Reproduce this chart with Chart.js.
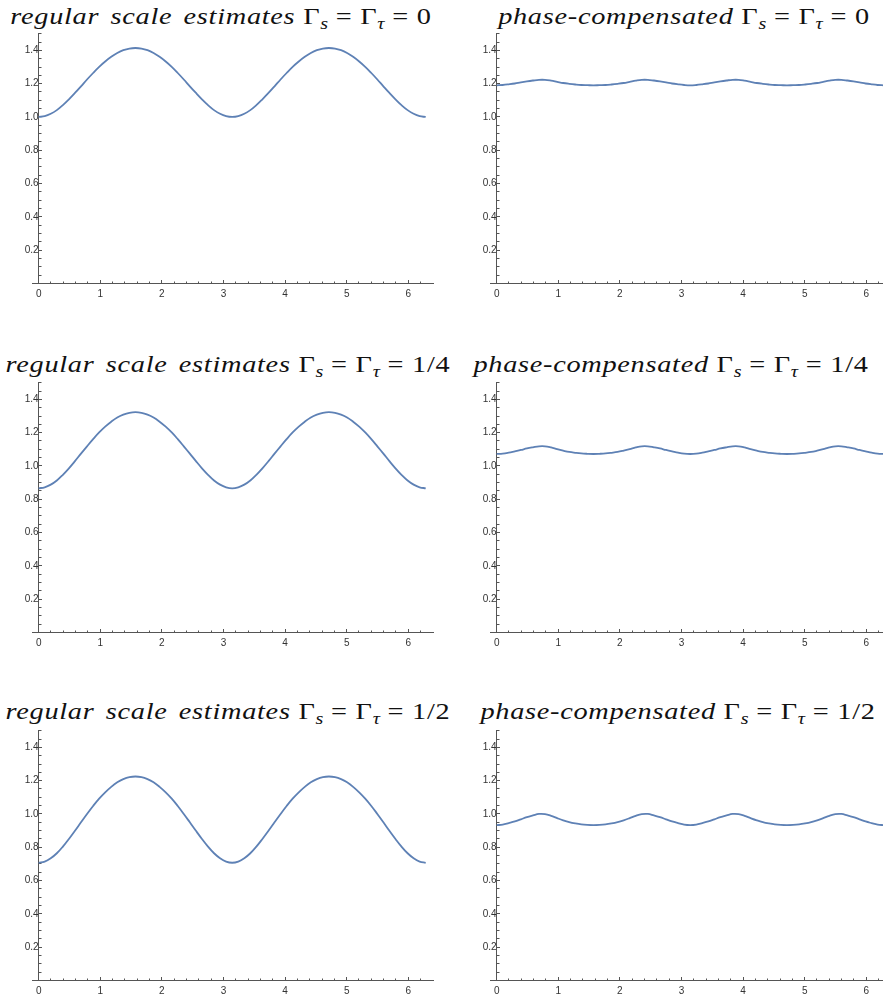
<!DOCTYPE html>
<html>
<head>
<meta charset="utf-8">
<script src="https://cdn.jsdelivr.net/npm/chart.js@4.4.1/dist/chart.umd.min.js"></script>
<style>
    body { margin: 0; width: 883px; height: 1003px; overflow: hidden; background: #fff; position: relative; }
    .title {
        position: absolute; width: 600px; text-align: center; white-space: nowrap;
        font-family: 'Liberation Serif', serif; font-size: 24px; line-height: 30px; color: #111;
        letter-spacing: 0.6px; transform: scaleX(1.18); transform-origin: center;
    }
    .title i { word-spacing: 3px; }
    .title sub { font-size: 17px; vertical-align: -5px; line-height: 0; font-style: italic; letter-spacing: 0; }
    canvas { position: absolute; }
</style>
</head>
<body>
<div class="title" style="left:-79px; top:1px;"><i>regular scale estimates</i> Γ<sub>s</sub> = Γ<sub>τ</sub> = 0</div>
<div class="title" style="left:384px; top:1px;"><i>phase-compensated</i> Γ<sub>s</sub> = Γ<sub>τ</sub> = 0</div>
<div class="title" style="left:-72px; top:349px;"><i>regular scale estimates</i> Γ<sub>s</sub> = Γ<sub>τ</sub> = 1/4</div>
<div class="title" style="left:371px; top:349px;"><i>phase-compensated</i> Γ<sub>s</sub> = Γ<sub>τ</sub> = 1/4</div>
<div class="title" style="left:-72px; top:696px;"><i>regular scale estimates</i> Γ<sub>s</sub> = Γ<sub>τ</sub> = 1/2</div>
<div class="title" style="left:378px; top:696px;"><i>phase-compensated</i> Γ<sub>s</sub> = Γ<sub>τ</sub> = 1/2</div>

<canvas id="c1" width="450" height="300" style="left:0px; top:0px;"></canvas>
<canvas id="c2" width="450" height="300" style="left:458px; top:0px;"></canvas>
<canvas id="c3" width="450" height="300" style="left:0px; top:349px;"></canvas>
<canvas id="c4" width="450" height="300" style="left:458px; top:349px;"></canvas>
<canvas id="c5" width="450" height="300" style="left:0px; top:697px;"></canvas>
<canvas id="c6" width="450" height="300" style="left:458px; top:697px;"></canvas>

<script>
// angle samples (radians)
const theta = [0, 0.098, 0.196, 0.295, 0.393, 0.491, 0.589, 0.687, 0.785, 0.884, 0.982, 1.080, 1.178, 1.276, 1.374, 1.473, 1.571,
    1.669, 1.767, 1.865, 1.963, 2.062, 2.160, 2.258, 2.356, 2.454, 2.553, 2.651, 2.749, 2.847, 2.945, 3.043, 3.142,
    3.240, 3.338, 3.436, 3.534, 3.632, 3.731, 3.829, 3.927, 4.025, 4.123, 4.222, 4.320, 4.418, 4.516, 4.614, 4.712,
    4.811, 4.909, 5.007, 5.105, 5.203, 5.301, 5.400, 5.498, 5.596, 5.694, 5.792, 5.890, 5.989, 6.087, 6.185, 6.283];

// regular scale estimates
const regularG0 = [1.000, 1.005, 1.019, 1.041, 1.071, 1.106, 1.144, 1.184, 1.225, 1.264, 1.301, 1.333, 1.361, 1.384, 1.401, 1.411, 1.414,
    1.411, 1.401, 1.384, 1.361, 1.333, 1.301, 1.264, 1.225, 1.184, 1.144, 1.106, 1.071, 1.041, 1.019, 1.005, 1.000,
    1.005, 1.019, 1.041, 1.071, 1.106, 1.144, 1.184, 1.225, 1.264, 1.301, 1.333, 1.361, 1.384, 1.401, 1.411, 1.414,
    1.411, 1.401, 1.384, 1.361, 1.333, 1.301, 1.264, 1.225, 1.184, 1.144, 1.106, 1.071, 1.041, 1.019, 1.005, 1.000];

const regularG14 = [0.866, 0.872, 0.888, 0.913, 0.947, 0.986, 1.029, 1.074, 1.118, 1.161, 1.201, 1.236, 1.266, 1.291, 1.308, 1.319, 1.323,
    1.319, 1.308, 1.291, 1.266, 1.236, 1.201, 1.161, 1.118, 1.074, 1.029, 0.986, 0.947, 0.913, 0.888, 0.872, 0.866,
    0.872, 0.888, 0.913, 0.947, 0.986, 1.029, 1.074, 1.118, 1.161, 1.201, 1.236, 1.266, 1.291, 1.308, 1.319, 1.323,
    1.319, 1.308, 1.291, 1.266, 1.236, 1.201, 1.161, 1.118, 1.074, 1.029, 0.986, 0.947, 0.913, 0.888, 0.872, 0.866];

const regularG12 = [0.707, 0.714, 0.734, 0.764, 0.804, 0.850, 0.899, 0.950, 1.000, 1.048, 1.092, 1.130, 1.163, 1.190, 1.209, 1.221, 1.225,
    1.221, 1.209, 1.190, 1.163, 1.130, 1.092, 1.048, 1.000, 0.950, 0.899, 0.850, 0.804, 0.764, 0.734, 0.714, 0.707,
    0.714, 0.734, 0.764, 0.804, 0.850, 0.899, 0.950, 1.000, 1.048, 1.092, 1.130, 1.163, 1.190, 1.209, 1.221, 1.225,
    1.221, 1.209, 1.190, 1.163, 1.130, 1.092, 1.048, 1.000, 0.950, 0.899, 0.850, 0.804, 0.764, 0.734, 0.714, 0.707];

// phase-compensated
const phaseG0 = [1.190, 1.192, 1.196, 1.201, 1.208, 1.214, 1.219, 1.223, 1.223, 1.218, 1.211, 1.204, 1.199, 1.195, 1.192, 1.191, 1.190,
    1.191, 1.192, 1.195, 1.199, 1.204, 1.211, 1.218, 1.223, 1.223, 1.219, 1.214, 1.208, 1.201, 1.196, 1.192, 1.190,
    1.192, 1.196, 1.201, 1.208, 1.214, 1.219, 1.223, 1.223, 1.218, 1.211, 1.204, 1.199, 1.195, 1.192, 1.191, 1.190,
    1.191, 1.192, 1.195, 1.199, 1.204, 1.211, 1.218, 1.223, 1.223, 1.219, 1.214, 1.208, 1.201, 1.196, 1.192, 1.190];

const phaseG14 = [1.072, 1.074, 1.080, 1.088, 1.096, 1.105, 1.112, 1.118, 1.118, 1.111, 1.101, 1.092, 1.084, 1.079, 1.075, 1.073, 1.072,
    1.073, 1.075, 1.079, 1.084, 1.092, 1.101, 1.111, 1.118, 1.118, 1.112, 1.105, 1.096, 1.088, 1.080, 1.074, 1.072,
    1.074, 1.080, 1.088, 1.096, 1.105, 1.112, 1.118, 1.118, 1.111, 1.101, 1.092, 1.084, 1.079, 1.075, 1.073, 1.072,
    1.073, 1.075, 1.079, 1.084, 1.092, 1.101, 1.111, 1.118, 1.118, 1.112, 1.105, 1.096, 1.088, 1.080, 1.074, 1.072];

const phaseG12 = [0.933, 0.936, 0.945, 0.955, 0.968, 0.981, 0.991, 1.000, 0.999, 0.989, 0.975, 0.962, 0.951, 0.943, 0.937, 0.934, 0.933,
    0.934, 0.937, 0.943, 0.951, 0.962, 0.975, 0.989, 0.999, 1.000, 0.991, 0.981, 0.968, 0.955, 0.945, 0.936, 0.933,
    0.936, 0.945, 0.955, 0.968, 0.981, 0.991, 1.000, 0.999, 0.989, 0.975, 0.962, 0.951, 0.943, 0.937, 0.934, 0.933,
    0.934, 0.937, 0.943, 0.951, 0.962, 0.975, 0.989, 0.999, 1.000, 0.991, 0.981, 0.968, 0.955, 0.945, 0.936, 0.933];

const xTickLabels = ['0', '1', '2', '3', '4', '5', '6'];
const yTickLabels = ['0.2', '0.4', '0.6', '0.8', '1.0', '1.2', '1.4'];

const lineColor = 'rgb(94,129,181)';
const axisColor = '#555';
const labelColor = '#333';

const xMajor = xTickLabels.map(Number);
const yMajor = yTickLabels.map(Number);
const xMinor = [];
for (let i = 1; i <= 31; i++) {
    if (i % 5) xMinor.push(i / 5);
}
const yMinor = [];
for (let i = 1; i <= 30; i++) {
    if (i % 4) yMinor.push(i / 20);
}

const xMin = -0.1, xMax = 6.403;

const makeChart = (id, xs, ys) => {
    const ctx = document.getElementById(id).getContext('2d');
    const points = xs.map((x, i) => ({ x: x, y: ys[i] }));
    const tickFont = { family: 'Liberation Sans', size: 10 };

    return new Chart(ctx, {
        type: 'line',
        data: {
            datasets: [{
                data: points,
                borderColor: lineColor,
                borderWidth: 1.8,
                pointRadius: 0,
                fill: false,
                tension: 0.4
            }]
        },
        options: {
            responsive: false,
            animation: false,
            layout: { padding: { left: 32.5, top: 33.7, right: 16.9, bottom: 16.5 } },
            plugins: { legend: { display: false }, tooltip: { enabled: false }, title: { display: false } },
            scales: {
                x: {
                    type: 'linear', min: xMin, max: xMax, position: { y: 0 },
                    afterBuildTicks: s => { s.ticks = xMajor.map(v => ({ value: v })); },
                    grid: { drawOnChartArea: false, tickLength: -4, tickColor: axisColor, tickWidth: 1 },
                    border: { color: axisColor, width: 1 },
                    ticks: {
                        autoSkip: false, maxRotation: 0, padding: 9, color: labelColor, font: tickFont,
                        callback: (v, i) => xTickLabels[i]
                    }
                },
                xm: {
                    type: 'linear', axis: 'x', min: xMin, max: xMax, position: { y: 0 },
                    afterBuildTicks: s => { s.ticks = xMinor.map(v => ({ value: v })); },
                    grid: { drawOnChartArea: false, tickLength: -2.5, tickColor: axisColor, tickWidth: 1 },
                    border: { display: false },
                    ticks: { display: false, autoSkip: false }
                },
                y: {
                    type: 'linear', min: 0, max: 1.5, position: { x: 0 },
                    afterBuildTicks: s => { s.ticks = yMajor.map(v => ({ value: v })); },
                    grid: { drawOnChartArea: false, tickLength: -4, tickColor: axisColor, tickWidth: 1 },
                    border: { color: axisColor, width: 1 },
                    ticks: {
                        autoSkip: false, padding: 8, color: labelColor, font: tickFont,
                        callback: (v, i) => yTickLabels[i]
                    }
                },
                ym: {
                    type: 'linear', axis: 'y', min: 0, max: 1.5, position: { x: 0 },
                    afterBuildTicks: s => { s.ticks = yMinor.map(v => ({ value: v })); },
                    grid: { drawOnChartArea: false, tickLength: -2.5, tickColor: axisColor, tickWidth: 1 },
                    border: { display: false },
                    ticks: { display: false, autoSkip: false }
                }
            }
        }
    });
};

makeChart('c1', theta, regularG0);
makeChart('c2', theta, phaseG0);
makeChart('c3', theta, regularG14);
makeChart('c4', theta, phaseG14);
makeChart('c5', theta, regularG12);
makeChart('c6', theta, phaseG12);
</script>
</body>
</html>
